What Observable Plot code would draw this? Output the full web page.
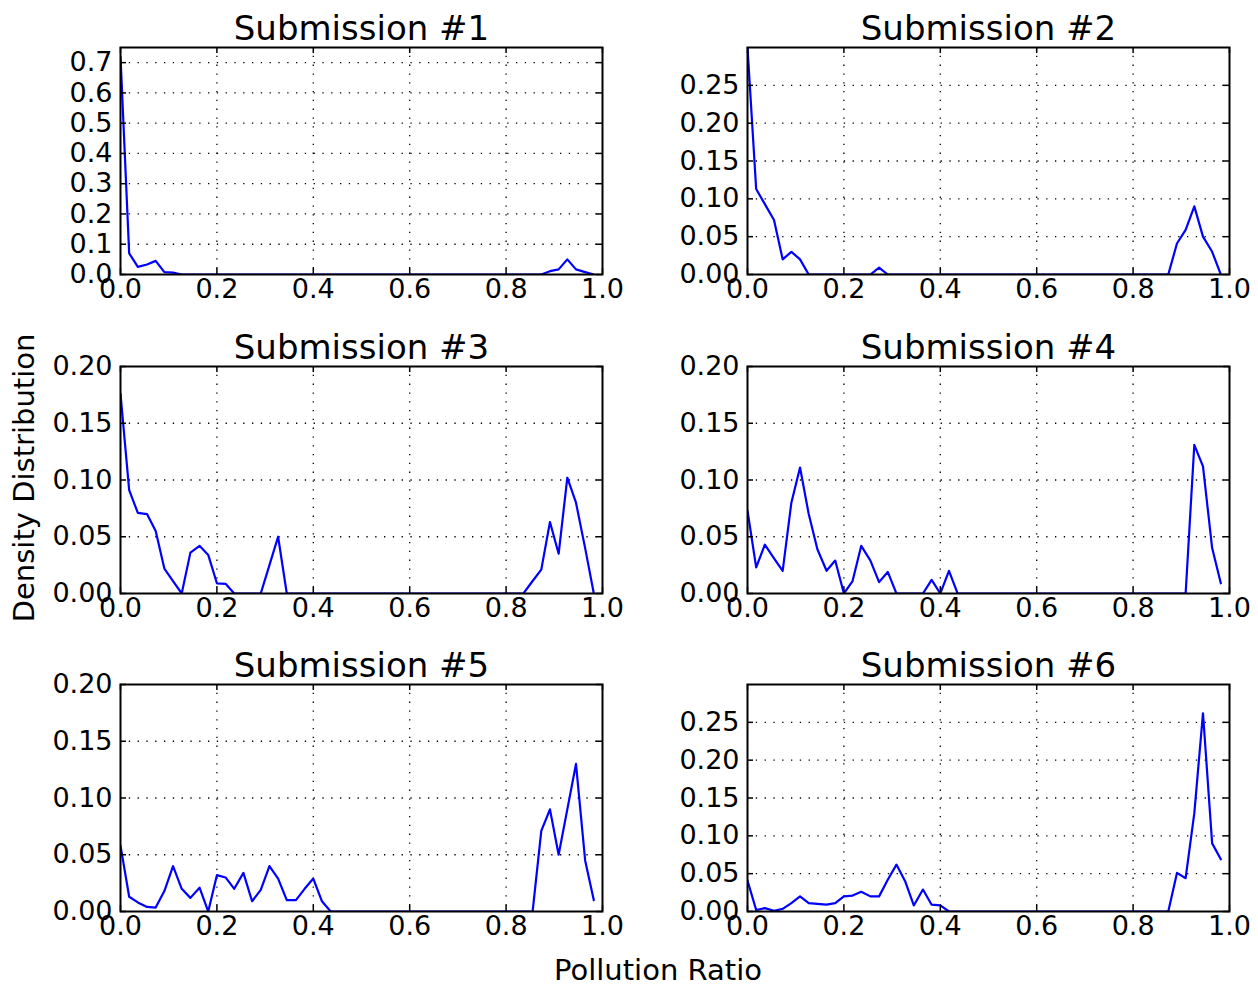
<!DOCTYPE html>
<html>
<head>
<meta charset="utf-8">
<script src="https://cdn.jsdelivr.net/npm/d3@7"></script>
<script src="https://cdn.jsdelivr.net/npm/@observablehq/plot@0.6"></script>
<style>
  html, body { margin: 0; padding: 0; background: white; }
  #chart { position: relative; width: 1258px; height: 989px; background: white; font-family: "DejaVu Sans", sans-serif; }
  #chart > svg, #chart > figure { position: absolute; margin: 0; }
</style>
</head>
<body>
<div id="chart"></div>
<script>
// Bin positions (pollution ratio) shared by all panels
const ratio = [
  0.000, 0.018, 0.036, 0.055, 0.073, 0.091, 0.109, 0.127, 0.145, 0.164, 0.182,
  0.200, 0.218, 0.236, 0.255, 0.273, 0.291, 0.309, 0.327, 0.345, 0.364, 0.382,
  0.400, 0.418, 0.436, 0.455, 0.473, 0.491, 0.509, 0.527, 0.545, 0.564, 0.582,
  0.600, 0.618, 0.636, 0.655, 0.673, 0.691, 0.709, 0.727, 0.745, 0.764, 0.782,
  0.800, 0.818, 0.836, 0.855, 0.873, 0.891, 0.909, 0.927, 0.945, 0.964, 0.982
];

const submission1 = [
  0.72, 0.07, 0.025, 0.033, 0.045, 0.008, 0.006, 0, 0, 0, 0,
  0, 0, 0, 0, 0, 0, 0, 0, 0, 0, 0,
  0, 0, 0, 0, 0, 0, 0, 0, 0, 0, 0,
  0, 0, 0, 0, 0, 0, 0, 0, 0, 0, 0,
  0, 0, 0, 0, 0, 0.011, 0.017, 0.05, 0.017, 0.008, 0
];
const submission2 = [
  0.30, 0.113, 0.093, 0.072, 0.020, 0.030, 0.020, 0, 0, 0, 0,
  0, 0, 0, 0, 0.009, 0, 0, 0, 0, 0, 0,
  0, 0, 0, 0, 0, 0, 0, 0, 0, 0, 0,
  0, 0, 0, 0, 0, 0, 0, 0, 0, 0, 0,
  0, 0, 0, 0, 0, 0.041, 0.059, 0.090, 0.050, 0.030, 0
];
const submission3 = [
  0.176, 0.091, 0.071, 0.070, 0.055, 0.022, 0.011, 0, 0.036, 0.042, 0.034,
  0.009, 0.0085, 0, 0, 0, 0, 0.025, 0.050, 0, 0, 0,
  0, 0, 0, 0, 0, 0, 0, 0, 0, 0, 0,
  0, 0, 0, 0, 0, 0, 0, 0, 0, 0, 0,
  0, 0, 0, 0.011, 0.021, 0.063, 0.035, 0.102, 0.080, 0.040, 0
];
const submission4 = [
  0.073, 0.023, 0.043, 0.031, 0.020, 0.080, 0.111, 0.070, 0.039, 0.020, 0.029,
  0, 0.011, 0.042, 0.029, 0.010, 0.019, 0, 0, 0, 0, 0.012,
  0, 0.020, 0, 0, 0, 0, 0, 0, 0, 0, 0,
  0, 0, 0, 0, 0, 0, 0, 0, 0, 0, 0,
  0, 0, 0, 0, 0, 0, 0, 0.131, 0.112, 0.040, 0.009
];
const submission5 = [
  0.058, 0.013, 0.008, 0.004, 0.0035, 0.018, 0.040, 0.020, 0.012, 0.021, 0,
  0.032, 0.030, 0.020, 0.034, 0.009, 0.019, 0.040, 0.029, 0.010, 0.010, 0.020,
  0.029, 0.009, 0, 0, 0, 0, 0, 0, 0, 0, 0,
  0, 0, 0, 0, 0, 0, 0, 0, 0, 0, 0,
  0, 0, 0, 0, 0.071, 0.090, 0.050, 0.090, 0.130, 0.045, 0.010
];
const submission6 = [
  0.041, 0.002, 0.0045, 0.001, 0.0035, 0.011, 0.020, 0.011, 0.010, 0.009, 0.011,
  0.020, 0.021, 0.026, 0.020, 0.020, 0.042, 0.062, 0.040, 0.008, 0.029, 0.009,
  0.008, 0, 0, 0, 0, 0, 0, 0, 0, 0, 0,
  0, 0, 0, 0, 0, 0, 0, 0, 0, 0, 0,
  0, 0, 0, 0, 0, 0.051, 0.044, 0.13, 0.262, 0.090, 0.069
];

const titles = ["Submission #1", "Submission #2", "Submission #3", "Submission #4", "Submission #5", "Submission #6"];
const series = [submission1, submission2, submission3, submission4, submission5, submission6];
const yMaxes = [0.75, 0.30, 0.20, 0.20, 0.20, 0.30];
const yTickSets = [
  [0, 0.1, 0.2, 0.3, 0.4, 0.5, 0.6, 0.7],
  [0, 0.05, 0.10, 0.15, 0.20, 0.25],
  [0, 0.05, 0.10, 0.15, 0.20],
  [0, 0.05, 0.10, 0.15, 0.20],
  [0, 0.05, 0.10, 0.15, 0.20],
  [0, 0.05, 0.10, 0.15, 0.20, 0.25]
];
const yDecimals = [1, 2, 2, 2, 2, 2];
const xTicks = [0, 0.2, 0.4, 0.6, 0.8, 1.0];
const xLabel = "Pollution Ratio";
const yLabel = "Density Distribution";

// layout
const areaLefts = [120, 747];
const areaTops = [47, 366, 684];
const W = 482, H = 227;
const mL = 110, mR = 24, mT = 47, mB = 45;
const font = "DejaVu Sans";

const chart = document.getElementById("chart");

series.forEach((vals, k) => {
  const data = ratio.map((r, i) => ({ratio: r, density: vals[i]}));
  const col = k % 2, row = Math.floor(k / 2);
  const yTicks = yTickSets[k];
  const dec = yDecimals[k];
  const grid = {stroke: "black", strokeOpacity: 1, strokeWidth: 1.3, strokeDasharray: "1.3,7.5"};
  const svg = Plot.plot({
    width: mL + W + mR,
    height: mT + H + mB,
    marginLeft: mL, marginRight: mR, marginTop: mT, marginBottom: mB,
    style: {fontFamily: font, fontSize: "27px", color: "black", background: "transparent", overflow: "visible"},
    x: {domain: [0, 1]},
    y: {domain: [0, yMaxes[k]]},
    marks: [
      Plot.gridX(xTicks.slice(1, -1), grid),
      Plot.gridY(yTicks.slice(1).filter(t => t < yMaxes[k] - 1e-9), grid),
      Plot.line(data, {x: "ratio", y: "density", stroke: "#0000ff", strokeWidth: 2.2, clip: true}),
      // inward ticks on all four sides
      Plot.tickX(xTicks, {x: d => d, stroke: "black", strokeWidth: 1.5, insetTop: H - 6}),
      Plot.tickX(xTicks, {x: d => d, stroke: "black", strokeWidth: 1.5, insetBottom: H - 6}),
      Plot.tickY(yTicks, {y: d => d, stroke: "black", strokeWidth: 1.5, insetRight: W - 6}),
      Plot.tickY(yTicks, {y: d => d, stroke: "black", strokeWidth: 1.5, insetLeft: W - 6}),
      Plot.axisX(xTicks, {anchor: "bottom", tickSize: 0, tickPadding: 4, label: null, tickFormat: d => d.toFixed(1), fontSize: 27}),
      Plot.axisY(yTicks, {anchor: "left", tickSize: 0, tickPadding: 8, label: null, tickFormat: d => d.toFixed(dec), fontSize: 27}),
      Plot.frame({stroke: "black", strokeWidth: 2}),
      Plot.text([titles[k]], {frameAnchor: "top", dy: -8, lineAnchor: "bottom", fontSize: 34, fill: "black"})
    ]
  });
  svg.style.left = (areaLefts[col] - mL) + "px";
  svg.style.top = (areaTops[row] - mT) + "px";
  chart.appendChild(svg);
});

// shared axis labels
const ns = "http://www.w3.org/2000/svg";
const overlay = document.createElementNS(ns, "svg");
overlay.setAttribute("width", 1258);
overlay.setAttribute("height", 989);
overlay.style.left = "0px";
overlay.style.top = "0px";
overlay.style.pointerEvents = "none";
const t1 = document.createElementNS(ns, "text");
t1.setAttribute("x", 658);
t1.setAttribute("y", 980);
t1.setAttribute("text-anchor", "middle");
t1.setAttribute("font-family", font);
t1.setAttribute("font-size", 29);
t1.textContent = xLabel;
overlay.appendChild(t1);
const t2 = document.createElementNS(ns, "text");
t2.setAttribute("transform", "translate(34,478) rotate(-90)");
t2.setAttribute("text-anchor", "middle");
t2.setAttribute("font-family", font);
t2.setAttribute("font-size", 29);
t2.textContent = yLabel;
overlay.appendChild(t2);
chart.appendChild(overlay);
</script>
</body>
</html>
